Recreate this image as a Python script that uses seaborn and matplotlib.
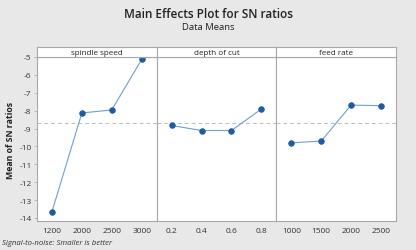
import matplotlib
matplotlib.use("Agg")
import matplotlib.pyplot as plt
import seaborn as sns
import pandas as pd

# factors and their levels
factors = ["spindle speed", "depth of cut", "feed rate"]
spindle_levels = ["1200", "2000", "2500", "3000"]
spindle_sn = [-13.65, -8.13, -7.96, -5.13]
depth_levels = ["0.2", "0.4", "0.6", "0.8"]
depth_sn = [-8.83, -9.11, -9.11, -7.91]
feed_levels = ["1000", "1500", "2000", "2500"]
feed_sn = [-9.80, -9.70, -7.69, -7.72]
y_ticks = [-14, -13, -12, -11, -10, -9, -8, -7, -6, -5]

sns.set_theme(style="white")
plt.rcParams["font.family"] = ["Open Sans", "DejaVu Sans"]

bg = "#e8e8e8"
edge = "#a8a8a8"
line_col = "#6f9fd3"
mark_col = "#1d5ca5"

grand_mean = sum(spindle_sn) / len(spindle_sn)

fig = plt.figure(figsize=(4.16, 2.51), dpi=100)
fig.patch.set_facecolor(bg)

W, H = 416, 251
left, right = 37, 396
top, bottom = 58, 222
strip_top = 48
pw = (right - left) / 3

panels = [(spindle_levels, spindle_sn), (depth_levels, depth_sn), (feed_levels, feed_sn)]

for i, (name, (levels, vals)) in enumerate(zip(factors, panels)):
    x0 = left + i * pw
    ax = fig.add_axes([x0 / W, 1 - bottom / H, pw / W, (bottom - top) / H])
    ax.set_facecolor("white")
    df = pd.DataFrame({"level": levels, "sn": vals})
    sns.pointplot(data=df, x="level", y="sn", ax=ax, color=mark_col,
                  markers="o", markersize=4, linewidth=0.8)
    for ln in ax.lines:
        ln.set_color(line_col)
        ln.set_markerfacecolor(mark_col)
        ln.set_markeredgecolor(mark_col)
    ax.axhline(grand_mean, color="#bdbdbd", lw=0.7, ls=(0, (4, 3)), zorder=0)
    ax.set_xlim(-0.5, 3.5)
    ax.set_ylim(-14.17, -5.0)
    ax.set_xlabel("")
    ax.set_ylabel("")
    for s in ax.spines.values():
        s.set_color(edge)
        s.set_linewidth(0.8)
    ax.tick_params(axis="x", labelsize=6, colors="#333333", length=2,
                   width=0.5, pad=2, color=edge)
    ax.tick_params(axis="y", labelsize=6, colors="#333333", length=2,
                   width=0.5, pad=2, color=edge)
    if i == 0:
        ax.set_yticks(y_ticks)
        ax.set_yticklabels([str(t) for t in y_ticks])
        ax.tick_params(axis="y", left=True)
    else:
        ax.set_yticks([])

    # strip header
    sax = fig.add_axes([x0 / W, 1 - top / H, pw / W, (top - strip_top) / H])
    sax.set_facecolor("white")
    sax.set_xticks([])
    sax.set_yticks([])
    for s in sax.spines.values():
        s.set_color(edge)
        s.set_linewidth(0.8)
    sax.text(0.5, 0.45, name, ha="center", va="center", fontsize=5.8,
             color="#222222", transform=sax.transAxes)

fig.text(0.5, 1 - 14 / H, "Main Effects Plot for SN ratios", ha="center",
         va="center", fontsize=8.5, color="#222222", fontweight="semibold")
fig.text(0.5, 1 - 27 / H, "Data Means", ha="center", va="center",
         fontsize=6.8, color="#222222")
fig.text(11 / W, 1 - 140 / H, "Mean of SN ratios", rotation=90, ha="center",
         va="center", fontsize=6.3, color="#222222", fontweight="bold")
fig.text(2 / W, 1 - 244 / H, "Signal-to-noise: Smaller is better", ha="left",
         va="center", fontsize=5.6, color="#333333", style="italic")

fig.savefig("out.png", dpi=100, facecolor=bg)
